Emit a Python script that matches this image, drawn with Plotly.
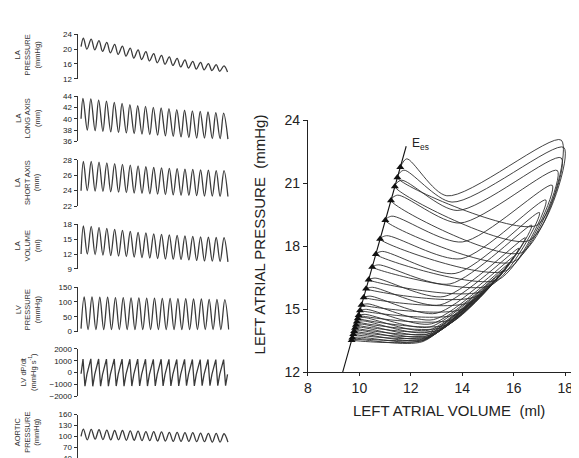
import plotly.graph_objects as go

# ---------------- data: left time-series panels (per cardiac cycle) ----------------
la_p_start = 20.7
la_p_peak = [23.0, 22.7, 22.3, 21.8, 21.3, 20.8, 20.3, 19.8, 19.3, 18.8, 18.3, 17.9, 17.5, 17.1, 16.7, 16.4, 16.1, 15.8, 15.5]
la_p_trough = [20.0, 19.8, 19.4, 19.0, 18.6, 18.1, 17.6, 17.2, 16.8, 16.3, 15.9, 15.6, 15.2, 14.9, 14.6, 14.4, 14.2, 14.0, 13.8]

long_start = 40.0
long_peak = [43.6, 43.5, 43.3, 43.1, 42.9, 42.7, 42.5, 42.3, 42.2, 42.0, 41.9, 41.8, 41.6, 41.5, 41.4, 41.3, 41.2, 41.1, 41.0]
long_trough = [38.0, 37.9, 37.8, 37.7, 37.6, 37.5, 37.4, 37.3, 37.2, 37.1, 37.0, 36.9, 36.8, 36.7, 36.6, 36.6, 36.5, 36.5, 36.4]

short_start = 24.0
short_peak = [27.8, 27.8, 27.7, 27.6, 27.5, 27.4, 27.3, 27.2, 27.1, 27.0, 26.95, 26.9, 26.85, 26.8, 26.75, 26.7, 26.65, 26.6, 26.6]
short_trough = [24.0, 23.95, 23.9, 23.85, 23.8, 23.75, 23.7, 23.65, 23.6, 23.55, 23.5, 23.45, 23.4, 23.4, 23.35, 23.3, 23.3, 23.25, 23.25]

vol_start = 12.0
vol_peak = [17.7, 17.6, 17.4, 17.2, 17.0, 16.8, 16.6, 16.4, 16.3, 16.1, 16.0, 15.9, 15.8, 15.7, 15.6, 15.5, 15.4, 15.35, 15.3]
vol_trough = [12.0, 11.9, 11.8, 11.7, 11.6, 11.5, 11.4, 11.3, 11.2, 11.1, 11.0, 10.95, 10.9, 10.8, 10.7, 10.6, 10.55, 10.5, 10.4]

lvp_start = 10.0
lvp_peak = [117, 117, 116, 116, 115, 115, 114, 114, 113, 113, 112, 112, 111, 111, 110, 110, 109, 109, 108]
lvp_trough = [7, 7, 7, 7, 7, 7, 7, 7, 7, 7, 7, 7, 7, 7, 7, 7, 7, 7, 7]

dpdt_start = -100
dpdt_peak = [1150, 1160, 1150, 1140, 1150, 1140, 1130, 1140, 1130, 1120, 1130, 1120, 1110, 1120, 1110, 1100, 1110, 1100, 1100]
dpdt_trough = [-1150, -1160, -1150, -1150, -1140, -1150, -1140, -1130, -1140, -1130, -1120, -1130, -1120, -1110, -1120, -1110, -1100, -1110, -1100]
dpdt_rest = [-150, -150, -150, -150, -150, -150, -150, -150, -150, -150, -150, -150, -150, -150, -150, -150, -150, -150, -150]

ao_start = 100
ao_peak = [120, 119, 118, 117, 116, 116, 115, 114, 113, 113, 112, 111, 111, 110, 110, 109, 108, 108, 107]
ao_trough = [90, 92, 91, 90, 90, 89, 89, 88, 88, 87, 87, 86, 86, 86, 85, 85, 84, 84, 84]

# ---------------- data: right P-V loops (per beat) ----------------
es_p = [21.76, 21.27, 20.84, 20.18, 19.23, 18.34, 17.62, 17.01, 16.40, 15.97, 15.56,
        15.20, 14.94, 14.71, 14.56, 14.40, 14.25, 14.10, 13.95, 13.80, 13.64, 13.52]
peak_dp = [0.40, 0.35, 0.30, 0.25, 0.20, 0.16, 0.13, 0.10, 0.08, 0.07, 0.06,
           0.05, 0.05, 0.04, 0.04, 0.04, 0.03, 0.03, 0.03, 0.03, 0.03, 0.03]
xmin_v = [13.4, 13.6, 13.8, 13.9, 14.0, 13.95, 13.72, 13.52, 13.29, 13.13, 12.98,
          12.88, 12.8, 12.74, 12.7, 12.66, 12.62, 12.58, 12.55, 12.5, 12.47, 12.45]
xmin_p = [20.4, 20.1, 19.7, 19.1, 18.2, 17.4, 16.7, 16.2, 15.6, 15.2, 14.8,
          14.5, 14.3, 14.15, 14.0, 13.9, 13.8, 13.7, 13.62, 13.55, 13.5, 13.45]
max_v = [17.85, 17.95, 17.85, 17.7, 17.5, 17.25, 17.0, 16.7, 16.45, 16.2, 16.0,
         15.8, 15.6, 15.4, 15.25, 15.1, 14.95, 14.8, 14.65, 14.5, 14.4, 14.3]
max_p = [23.05, 22.7, 22.2, 21.6, 20.9, 20.2, 19.6, 19.0, 18.4, 17.9, 17.5,
         17.15, 16.85, 16.6, 16.4, 16.2, 16.0, 15.8, 15.65, 15.5, 15.4, 15.3]
bot_v = [16.9, 16.6, 16.3, 16.0, 15.7, 15.4, 15.1, 14.8, 14.5, 14.25, 14.0,
         13.8, 13.6, 13.4, 13.25, 13.1, 12.95, 12.85, 12.75, 12.65, 12.55, 12.45]
bot_p = [19.0, 18.27, 17.69, 17.26, 16.83, 16.4, 16.13, 15.86, 15.59, 15.31, 15.0,
         14.75, 14.5, 14.25, 14.13, 14.0, 13.88, 13.79, 13.71, 13.63, 13.54, 13.46]

ees_v = [9.35, 11.82]
ees_p = [12.0, 22.76]

# ---------------- build figure ----------------
W, H = 579, 458
fig = go.Figure()
TRACE_COL = "#3a3a3a"
FONT = "Arial, Liberation Sans, sans-serif"
NARROW = "Liberation Sans Narrow, Arial Narrow, Liberation Sans, sans-serif"


def wave(start, peaks, troughs, tp=0.3, tt=0.8):
    xs, ys = [0.0], [start]
    for k, (p, t) in enumerate(zip(peaks, troughs)):
        xs += [k + tp, k + tt]
        ys += [p, t]
    return xs, ys


# (waveform, label, y-range, tick values, (top px, bottom px), label centre px)
panels = [
    (wave(la_p_start, la_p_peak, la_p_trough, 0.3, 0.75), "LA<br>PRESSURE<br>(mmHg)", [12, 24], [12, 16, 20, 24], (19, 65), 40),
    (wave(long_start, long_peak, long_trough, 0.25, 0.8), "LA<br>LONG AXIS<br>(mm)", [36, 44], [36, 38, 40, 42, 44], (83, 130), 106),
    (wave(short_start, short_peak, short_trough, 0.3, 0.8), "LA<br>SHORT AXIS<br>(mm)", [22, 28], [22, 24, 26, 28], (149, 197), 172),
    (wave(vol_start, vol_peak, vol_trough, 0.3, 0.8), "LA<br>VOLUME<br>(ml)", [9, 18], [9, 12, 15, 18], (216, 262), 238),
    (wave(lvp_start, lvp_peak, lvp_trough, 0.4, 0.9), "LV<br>PRESSURE<br>(mmHg)", [0, 150], [0, 50, 100, 150], (281, 327), 304),
    (None, "LV dP/dt<br>(mmHg s<sup>-1</sup>)", [-2000, 2000], [-2000, -1000, 0, 1000, 2000], (345, 394), 369),
    (wave(ao_start, ao_peak, ao_trough, 0.3, 0.8), "AORTIC<br>PRESSURE<br>(mmHg)", [40, 160], [40, 70, 100, 130, 160], (413, 458), 431),
]

# dP/dt waveform
dx, dy = [0.0], [dpdt_start]
for k in range(len(dpdt_peak)):
    dx += [k + 0.25, k + 0.5, k + 0.75]
    dy += [dpdt_peak[k], dpdt_trough[k], dpdt_rest[k]]

layout = dict(width=W, height=H, margin=dict(l=0, r=0, t=0, b=0),
              paper_bgcolor="white", plot_bgcolor="white", showlegend=False,
              annotations=[])

xdom_left = [66 / W, 219 / W]
for i, (wv, label, yr, tv, (ytop, ybot), ylab) in enumerate(panels):
    idx = i + 1
    xa = "x" if idx == 1 else f"x{idx}"
    ya = "y" if idx == 1 else f"y{idx}"
    if wv is None:
        xs, ys = dx, dy
        shape = "linear"
    else:
        xs, ys = wv
        shape = "spline"
    fig.add_trace(go.Scatter(x=xs, y=ys, mode="lines", xaxis=xa, yaxis=ya,
                             line=dict(color=TRACE_COL, width=1.3, shape=shape, smoothing=1.0),
                             hoverinfo="skip"))
    dom = [1 - ybot / H, 1 - ytop / H]
    layout["xaxis" if idx == 1 else f"xaxis{idx}"] = dict(domain=xdom_left, range=[-0.45, 19.0], visible=False,
                                                           anchor=ya)
    layout["yaxis" if idx == 1 else f"yaxis{idx}"] = dict(
        domain=dom, range=yr, tickvals=tv, showline=True, linecolor="#333", linewidth=1,
        ticks="outside", ticklen=3, tickcolor="#333", tickwidth=1, showgrid=False, zeroline=False,
        tickfont=dict(family=FONT, size=8, color="#222"), anchor=xa)
    layout["annotations"].append(dict(
        xref="paper", yref="paper", x=16 / W, y=1 - ylab / H, text=label, textangle=-90,
        showarrow=False, font=dict(family=NARROW, size=7.5, color="#333"),
        xanchor="center", yanchor="middle"))

# right P-V loops: one continuous trace through all beats
es_v = [ees_v[0] + (p - ees_p[0]) * (ees_v[1] - ees_v[0]) / (ees_p[1] - ees_p[0]) for p in es_p]
pv_v, pv_p = [], []
for i in range(len(es_p)):
    pv_v += [es_v[i], es_v[i] + 0.25, xmin_v[i], max_v[i], bot_v[i]]
    pv_p += [es_p[i], es_p[i] + peak_dp[i], xmin_p[i], max_p[i], bot_p[i]]

fig.add_trace(go.Scatter(x=pv_v, y=pv_p, mode="lines", xaxis="x8", yaxis="y8",
                         line=dict(color="#2e2e2e", width=0.9, shape="spline", smoothing=0.8),
                         hoverinfo="skip"))
fig.add_trace(go.Scatter(x=ees_v, y=ees_p, mode="lines", xaxis="x8", yaxis="y8",
                         line=dict(color="#111", width=1.1), hoverinfo="skip"))
fig.add_trace(go.Scatter(x=es_v, y=es_p, mode="markers", xaxis="x8", yaxis="y8",
                         marker=dict(symbol="triangle-up", size=7, color="#111"), hoverinfo="skip"))

layout["xaxis8"] = dict(domain=[298 / W, 578 / W], range=[8, 18.81], tickvals=[8, 10, 12, 14, 16, 18],
                        showline=True, linecolor="#222", linewidth=1, ticks="outside", ticklen=3,
                        tickcolor="#222", showgrid=False, zeroline=False,
                        tickfont=dict(family=FONT, size=14, color="#222"), anchor="y8")
layout["yaxis8"] = dict(domain=[1 - 369 / H, 1 - 108 / H], range=[12, 24], tickvals=[12, 15, 18, 21, 24],
                        showline=True, linecolor="#222", linewidth=1, ticks="outside", ticklen=4,
                        tickcolor="#222", showgrid=False, zeroline=False,
                        tickfont=dict(family=FONT, size=14, color="#222"), anchor="x8")

layout["annotations"] += [
    dict(xref="paper", yref="paper", x=440 / W, y=1 - 409 / H,
         text="LEFT ATRIAL VOLUME\u00a0\u00a0(ml)", showarrow=False,
         font=dict(family=FONT, size=15, color="#222"), xanchor="center", yanchor="middle"),
    dict(xref="paper", yref="paper", x=249 / W, y=1 - 226 / H,
         text="LEFT ATRIAL PRESSURE\u00a0\u00a0(mmHg)", showarrow=False, textangle=-90,
         font=dict(family=FONT, size=15, color="#222"), xanchor="center", yanchor="middle"),
    dict(xref="x8", yref="y8", x=11.98, y=22.85, text="E<sub>es</sub>", showarrow=False,
         font=dict(family=FONT, size=12, color="#222"), xanchor="left", yanchor="middle"),
]

fig.update_layout(**layout)
fig.write_html("out.html")
